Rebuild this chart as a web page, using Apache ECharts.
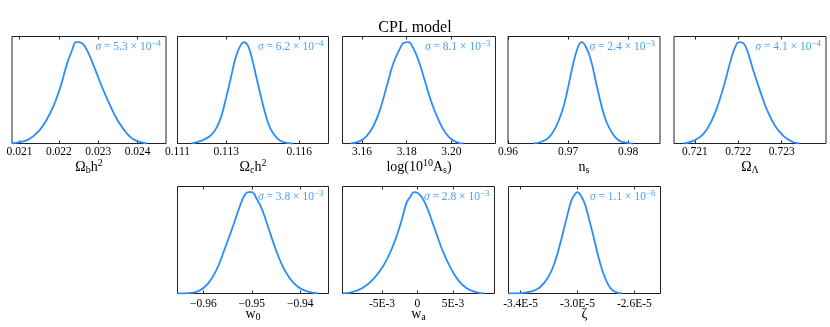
<!DOCTYPE html>
<html>
<head>
<meta charset="utf-8">
<script src="https://cdn.jsdelivr.net/npm/echarts@6/dist/echarts.min.js"></script>
<style>
  html, body { margin: 0; padding: 0; background: #fff; }
  #chart { width: 830px; height: 327px; }
</style>
</head>
<body>
<div id="chart"></div>
<script>
// 1D marginals, y normalised to the peak
const obh2X = [0.020814, 0.020983, 0.021194, 0.021363, 0.021532, 0.021700, 0.021869, 0.022038, 0.022207, 0.022333, 0.022443, 0.022544, 0.022671, 0.022797, 0.022966, 0.023135, 0.023304, 0.023473, 0.023641, 0.023810, 0.023979, 0.024232];
const obh2Y = [0, 0.010, 0.033, 0.076, 0.142, 0.241, 0.373, 0.554, 0.785, 0.917, 1, 0.997, 0.950, 0.851, 0.686, 0.521, 0.373, 0.241, 0.142, 0.066, 0.026, 0];

const och2X = [0.111566, 0.111957, 0.112348, 0.112609, 0.112804, 0.113000, 0.113196, 0.113391, 0.113587, 0.113730, 0.113887, 0.114043, 0.114239, 0.114434, 0.114630, 0.114826, 0.115086, 0.115347, 0.115738];
const och2Y = [0, 0.026, 0.076, 0.158, 0.274, 0.455, 0.653, 0.851, 0.967, 1, 0.967, 0.851, 0.653, 0.455, 0.274, 0.142, 0.053, 0.013, 0];

const logAsX = [3.15493, 3.15910, 3.16209, 3.16507, 3.16806, 3.17104, 3.17403, 3.17701, 3.17881, 3.18075, 3.18299, 3.18522, 3.18821, 3.19119, 3.19418, 3.19716, 3.20015, 3.20313, 3.20537];
const logAsY = [0, 0.023, 0.072, 0.170, 0.333, 0.562, 0.791, 0.938, 0.993, 1, 0.938, 0.824, 0.611, 0.399, 0.235, 0.111, 0.039, 0.007, 0];

const nsX = [0.96430, 0.96570, 0.96682, 0.96793, 0.96905, 0.96989, 0.97073, 0.97156, 0.97223, 0.97296, 0.97380, 0.97464, 0.97548, 0.97631, 0.97743, 0.97855, 0.97994, 0.98078];
const nsY = [0, 0.020, 0.060, 0.159, 0.325, 0.523, 0.755, 0.937, 1, 0.954, 0.821, 0.606, 0.391, 0.225, 0.093, 0.026, 0.007, 0];

const oLX = [0.720747, 0.720962, 0.721193, 0.721385, 0.721539, 0.721692, 0.721846, 0.721962, 0.722023, 0.722131, 0.722231, 0.722346, 0.722500, 0.722654, 0.722846, 0.723038, 0.723231, 0.723408];
const oLY = [0, 0.026, 0.092, 0.224, 0.389, 0.604, 0.851, 0.983, 1, 0.983, 0.884, 0.719, 0.521, 0.340, 0.175, 0.076, 0.020, 0];

const w0X = [-0.96535, -0.96302, -0.96091, -0.95915, -0.95739, -0.95563, -0.95387, -0.95246, -0.95141, -0.95070, -0.95000, -0.94894, -0.94789, -0.94648, -0.94507, -0.94366, -0.94226, -0.94050, -0.93874, -0.93627];
const w0Y = [0, 0.003, 0.026, 0.092, 0.223, 0.436, 0.666, 0.862, 0.977, 1, 1, 0.928, 0.830, 0.633, 0.436, 0.272, 0.157, 0.066, 0.023, 0];

const waX = [-0.010472, -0.009057, -0.007642, -0.006226, -0.004811, -0.003632, -0.002453, -0.001509, -0.001038, -0.000472, 0, 0.000613, 0.001321, 0.002264, 0.003443, 0.004623, 0.005802, 0.006981, 0.008396, 0.009340];
const waY = [0, 0.017, 0.059, 0.142, 0.274, 0.439, 0.670, 0.901, 0.950, 1, 0.993, 0.950, 0.851, 0.670, 0.439, 0.257, 0.125, 0.050, 0.010, 0];

const zetaX = [-3.4847e-5, -3.3953e-5, -3.3247e-5, -3.2659e-5, -3.2071e-5, -3.1600e-5, -3.1129e-5, -3.0776e-5, -3.0424e-5, -3.0188e-5, -3.0000e-5, -2.9765e-5, -2.9482e-5, -2.9129e-5, -2.8776e-5, -2.8424e-5, -2.8071e-5, -2.7718e-5, -2.7365e-5, -2.6894e-5];
const zetaY = [0, 0.003, 0.020, 0.059, 0.158, 0.307, 0.538, 0.736, 0.917, 0.977, 1, 0.967, 0.884, 0.703, 0.505, 0.307, 0.158, 0.059, 0.017, 0];

// tick positions and their printed labels
const obh2Ticks = [0.021, 0.022, 0.023, 0.024];
const obh2Labels = ['0.021', '0.022', '0.023', '0.024'];
const och2Ticks = [0.111, 0.113, 0.116];
const och2Labels = ['0.111', '0.113', '0.116'];
const logAsTicks = [3.16, 3.18, 3.20];
const logAsLabels = ['3.16', '3.18', '3.20'];
const nsTicks = [0.96, 0.97, 0.98];
const nsLabels = ['0.96', '0.97', '0.98'];
const oLTicks = [0.721, 0.722, 0.723];
const oLLabels = ['0.721', '0.722', '0.723'];
const w0Ticks = [-0.96, -0.95, -0.94];
const w0Labels = ['\u22120.96', '\u22120.95', '\u22120.94'];
const waTicks = [-0.005, 0, 0.005];
const waLabels = ['-5E-3', '0', '5E-3'];
const zetaTicks = [-3.4e-5, -3.0e-5, -2.6e-5];
const zetaLabels = ['-3.4E-5', '-3.0E-5', '-2.6E-5'];

// sigma annotations: mantissa, exponent
const sigmaMant = ['5.3', '6.2', '8.1', '2.4', '4.1', '3.8', '2.8', '1.1'];
const sigmaExp = ['\u22124', '\u22124', '\u22123', '\u22123', '\u22124', '\u22123', '\u22123', '\u22126'];

const SERIF = "'Liberation Serif', 'DejaVu Serif', serif";
const LINE = '#2b8cff';
const FRAME = '#222';

const panels = [
    { x: obh2X, y: obh2Y, ticks: obh2Ticks, labels: obh2Labels, min: 0.02081, max: 0.024722,
      name: '{n|\u03A9}{sub|b}{n|h}{sup|2}', left: 12, top: 36.5, width: 154 },
    { x: och2X, y: och2Y, ticks: och2Ticks, labels: och2Labels, min: 0.111, max: 0.1172,
      name: '{n|\u03A9}{sub|c}{n|h}{sup|2}', left: 177.5, top: 36.5, width: 151 },
    { x: logAsX, y: logAsY, ticks: logAsTicks, labels: logAsLabels, min: 3.1513, max: 3.2197,
      name: '{n|log(10}{sup|10}{n|A}{sub|s}{n|)}', left: 342.5, top: 36.5, width: 153 },
    { x: nsX, y: nsY, ticks: nsTicks, labels: nsLabels, min: 0.96, max: 0.9853,
      name: '{n|n}{sub|s}', left: 508, top: 36.5, width: 152 },
    { x: oLX, y: oLY, ticks: oLTicks, labels: oLLabels, min: 0.72052, max: 0.72402,
      name: '{n|\u03A9}{sub|\u039B}', left: 674, top: 36.5, width: 152 },
    { x: w0X, y: w0Y, ticks: w0Ticks, labels: w0Labels, min: -0.96535, max: -0.93416,
      name: '{n|w}{sub|0}', left: 177.5, top: 186.5, width: 151 },
    { x: waX, y: waY, ticks: waTicks, labels: waLabels, min: -0.010566, max: 0.010849,
      name: '{n|w}{sub|a}', left: 342.5, top: 186.5, width: 152 },
    { x: zetaX, y: zetaY, ticks: zetaTicks, labels: zetaLabels, min: -3.4847e-5, max: -2.4165e-5,
      name: '{n|\u03B6}', left: 508.5, top: 186.5, width: 152 }
];
const PANEL_H = 107;

function pickLabel(p, v) {
    let best = 0;
    p.ticks.forEach((t, i) => {
        if (Math.abs(t - v) < Math.abs(p.ticks[best] - v)) best = i;
    });
    return p.labels[best];
}

const grid = [], xAxis = [], yAxis = [], series = [];
const title = [{
    text: 'CPL model',
    left: 'center',
    top: 20,
    padding: 0,
    textStyle: { fontFamily: SERIF, fontSize: 16, fontWeight: 'normal', color: '#000' }
}];

panels.forEach((p, i) => {
    const bottomRow = p.top > 100;
    grid.push({
        left: p.left, top: p.top, width: p.width, height: PANEL_H,
        show: true, borderColor: FRAME, borderWidth: 1, backgroundColor: 'transparent'
    });
    const tickCfg = { show: true, inside: true, length: 3, customValues: p.ticks,
        lineStyle: { color: FRAME, width: 1 } };
    xAxis.push({
        type: 'value', gridIndex: i, position: 'bottom', min: p.min, max: p.max,
        axisLine: { show: false },
        axisTick: tickCfg,
        splitLine: { show: false },
        axisLabel: {
            customValues: p.ticks,
            margin: bottomRow ? 4 : 2,
            fontFamily: SERIF, fontSize: 11.5, color: '#000',
            formatter: v => pickLabel(p, v)
        },
        name: p.name,
        nameLocation: 'middle',
        nameGap: bottomRow ? 12 : 15,
        nameMoveOverlap: false,
        nameTextStyle: {
            fontFamily: SERIF, color: '#000',
            rich: {
                n: { fontFamily: SERIF, fontSize: 14, lineHeight: 17, color: '#000' },
                sub: { fontFamily: SERIF, fontSize: 10, lineHeight: 17, verticalAlign: 'bottom', color: '#000' },
                sup: { fontFamily: SERIF, fontSize: 10, lineHeight: 17, verticalAlign: 'top', color: '#000' }
            }
        }
    });
    xAxis.push({
        type: 'value', gridIndex: i, position: 'top', min: p.min, max: p.max,
        axisLine: { show: false },
        axisTick: tickCfg,
        splitLine: { show: false },
        axisLabel: { show: false }
    });
    yAxis.push({
        type: 'value', gridIndex: i, min: 0, max: 1.055,
        axisLine: { show: false }, axisTick: { show: false },
        axisLabel: { show: false }, splitLine: { show: false }
    });
    series.push({
        type: 'line',
        xAxisIndex: 2 * i,
        yAxisIndex: i,
        data: p.x.map((x, k) => [x, p.y[k]]),
        showSymbol: false,
        smooth: 0.45,
        lineStyle: { color: LINE, width: 1.8 },
        silent: true
    });
    title.push({
        text: '{i|\u03C3} = ' + sigmaMant[i] + ' \u00D7 10{sup|' + sigmaExp[i] + '}',
        right: 830 - (p.left + p.width) + 5,
        top: p.top + 3,
        padding: 0,
        textStyle: {
            fontFamily: SERIF, fontSize: 11.5, fontWeight: 'normal', color: '#4aa0ff', lineHeight: 14,
            rich: {
                i: { fontFamily: SERIF, fontSize: 11.5, fontStyle: 'italic', color: '#4aa0ff', lineHeight: 14 },
                sup: { fontFamily: SERIF, fontSize: 9, color: '#4aa0ff', lineHeight: 14, verticalAlign: 'top' }
            }
        }
    });
});

const chart = echarts.init(document.getElementById('chart'));
chart.setOption({
    animation: false,
    backgroundColor: '#fff',
    title: title,
    grid: grid,
    xAxis: xAxis,
    yAxis: yAxis,
    series: series
});
</script>
</body>
</html>
